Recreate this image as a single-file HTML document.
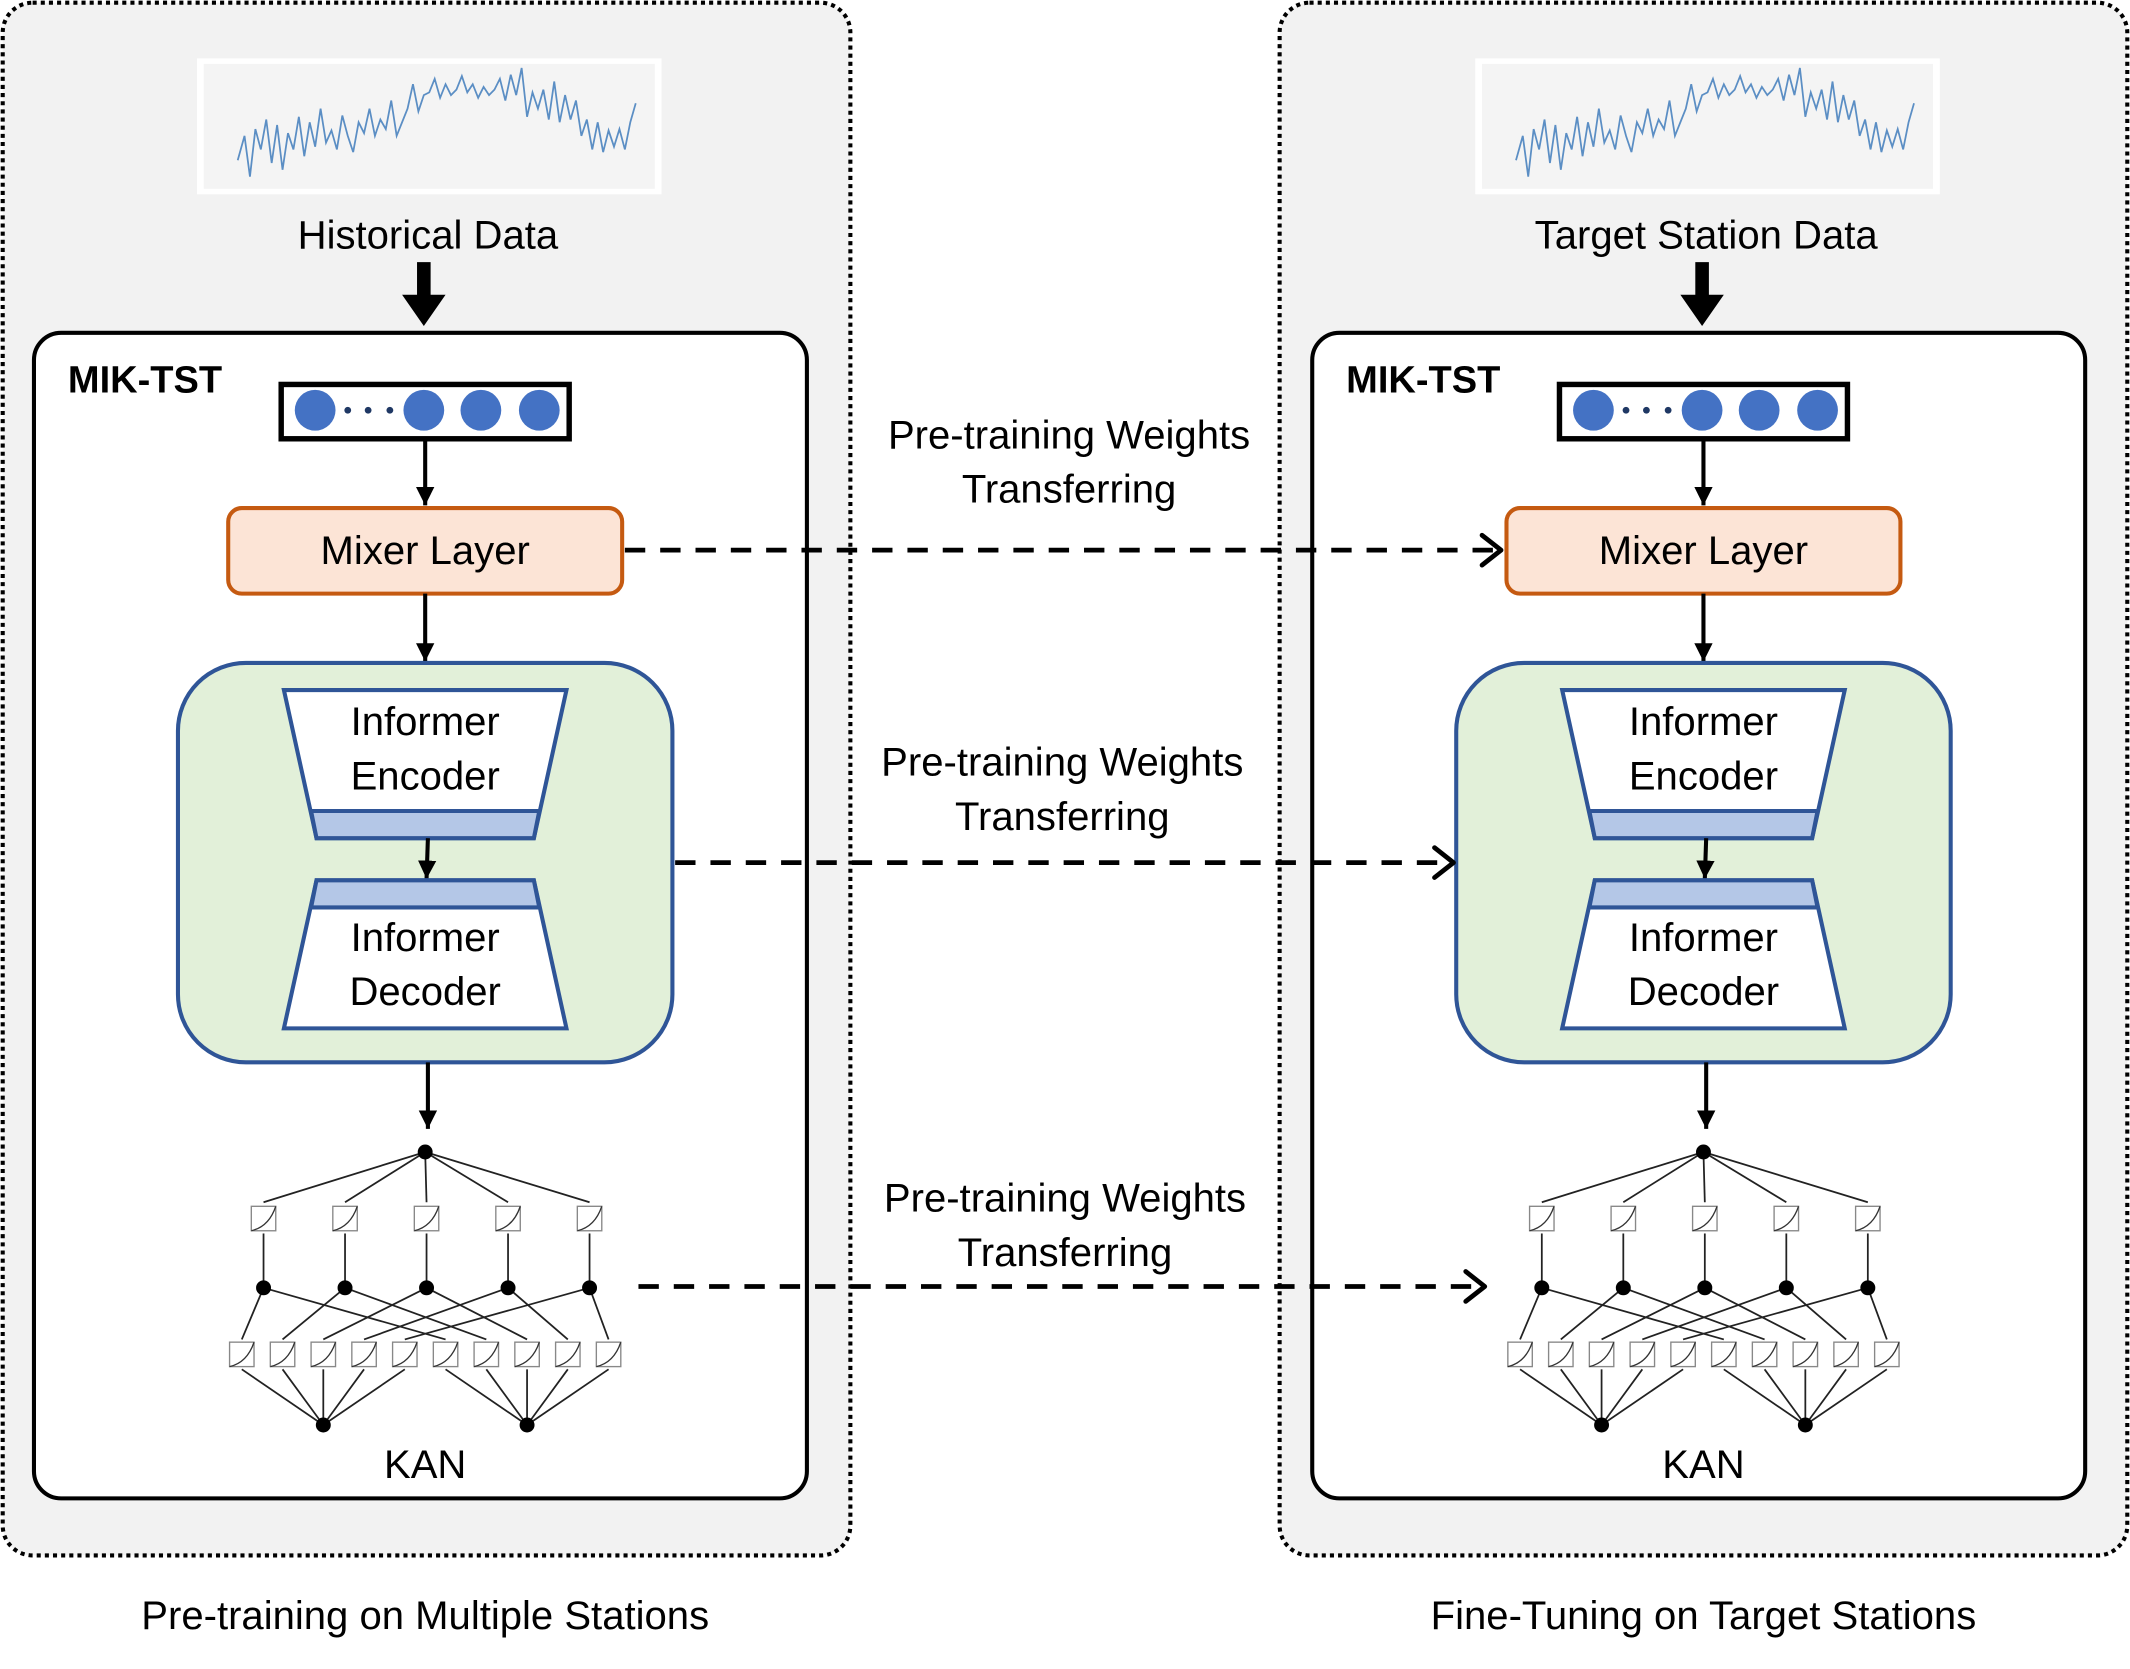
<!DOCTYPE html>
<html><head><meta charset="utf-8"><style>
html,body{margin:0;padding:0;background:#fff;width:2130px;height:1669px;overflow:hidden}
svg{display:block}
text{font-family:"Liberation Sans",sans-serif;fill:#000}
.t{font-size:29.5px}
</style></head><body>
<svg width="2130" height="1669" viewBox="0 0 1568 1228.6" preserveAspectRatio="none" xmlns="http://www.w3.org/2000/svg">
<defs>
<marker id="ah" viewBox="0 0 10 10" refX="10" refY="5" markerWidth="4.5" markerHeight="4.5" orient="auto" markerUnits="strokeWidth"><path d="M0,0 L10,5 L0,10 z" fill="#000"/></marker>
<g id="kbox"><rect x="-9" y="-9" width="18" height="18" fill="#fff" stroke="#888" stroke-width="1"/><path d="M-9,9 Q4,6 9,-9" fill="none" stroke="#333" stroke-width="1"/></g>
</defs>

<!-- LEFT PANEL -->
<g>
<rect x="2" y="2" width="624" height="1143" rx="22" fill="#f2f2f2" stroke="#000" stroke-width="3" stroke-dasharray="3 3"/>
<rect x="145" y="43" width="342" height="100" fill="#fff"/>
<rect x="150" y="47" width="332" height="92" fill="#f4f4f4"/>
<polyline fill="none" stroke="#5b8ec4" stroke-width="1.3" points="175,118 180,100 184,130 188,95 192,110 196,88 200,120 204,92 208,125 212,98 216,110 220,86 224,115 228,90 232,108 236,80 240,105 244,96 248,110 252,85 256,100 260,112 264,90 268,98 272,80 276,100 280,88 284,95 288,74 292,100 296,90 300,80 304,62 308,82 312,70 316,68 320,58 324,72 328,62 332,70 336,66 340,56 344,68 348,62 352,72 356,64 360,70 364,66 368,58 372,74 376,55 380,70 384,50 388,86 392,68 396,80 400,66 404,88 408,60 412,90 416,70 420,88 424,74 428,100 432,88 436,110 440,90 444,112 448,96 452,108 456,95 460,110 464,90 468,76"/>
<text x="315" y="183" class="t" text-anchor="middle">Historical Data</text>
<path d="M307,193 h10 v24 h11 l-16,23 l-16,-23 h11 z" fill="#000"/>
<rect x="25" y="245" width="569" height="858" rx="20" fill="#fff" stroke="#000" stroke-width="3"/>
<text x="50" y="289" font-size="28" font-weight="bold">MIK-TST</text>
<rect x="207" y="283" width="212" height="40" fill="#fff" stroke="#000" stroke-width="4"/>
<circle cx="232" cy="302" r="15" fill="#4472c4"/><circle cx="312" cy="302" r="15" fill="#4472c4"/><circle cx="354" cy="302" r="15" fill="#4472c4"/><circle cx="397" cy="302" r="15" fill="#4472c4"/>
<circle cx="256" cy="302" r="2.5" fill="#1f3864"/><circle cx="271" cy="302" r="2.5" fill="#1f3864"/><circle cx="287" cy="302" r="2.5" fill="#1f3864"/>
<line x1="313" y1="323" x2="313" y2="372" stroke="#000" stroke-width="3" marker-end="url(#ah)"/>
<rect x="168" y="374" width="290" height="63" rx="10" fill="#fce4d6" stroke="#c55a11" stroke-width="3"/>
<text x="313" y="415" class="t" text-anchor="middle">Mixer Layer</text>
<line x1="313" y1="437" x2="313" y2="487" stroke="#000" stroke-width="3" marker-end="url(#ah)"/>
<rect x="131" y="488" width="364" height="294" rx="50" fill="#e2f0d9" stroke="#2f5597" stroke-width="3"/>
<path d="M209,508 H417 L393,617 H233 Z" fill="#fff" stroke="#2f5597" stroke-width="3"/>
<path d="M229,597 H397 L393,617 H233 Z" fill="#b4c7e7" stroke="#2f5597" stroke-width="3"/>
<text x="313" y="541" class="t" text-anchor="middle">Informer</text>
<text x="313" y="581" class="t" text-anchor="middle">Encoder</text>
<line x1="315" y1="617" x2="314" y2="647" stroke="#000" stroke-width="3" marker-end="url(#ah)"/>
<path d="M233,648 H393 L417,757 H209 Z" fill="#fff" stroke="#2f5597" stroke-width="3"/>
<path d="M233,648 H393 L397,668 H229 Z" fill="#b4c7e7" stroke="#2f5597" stroke-width="3"/>
<text x="313" y="700" class="t" text-anchor="middle">Informer</text>
<text x="313" y="740" class="t" text-anchor="middle">Decoder</text>
<line x1="315" y1="782" x2="315" y2="831" stroke="#000" stroke-width="3" marker-end="url(#ah)"/>
<g stroke="#222" stroke-width="1.3">
<line x1="313" y1="848" x2="194" y2="885"/><line x1="313" y1="848" x2="254" y2="885"/><line x1="313" y1="848" x2="314" y2="885"/><line x1="313" y1="848" x2="374" y2="885"/><line x1="313" y1="848" x2="434" y2="885"/>
<line x1="194" y1="908" x2="194" y2="948"/><line x1="254" y1="908" x2="254" y2="948"/><line x1="314" y1="908" x2="314" y2="948"/><line x1="374" y1="908" x2="374" y2="948"/><line x1="434" y1="908" x2="434" y2="948"/>
<line x1="194" y1="948" x2="178" y2="986"/><line x1="194" y1="948" x2="328" y2="986"/>
<line x1="254" y1="948" x2="208" y2="986"/><line x1="254" y1="948" x2="358" y2="986"/>
<line x1="314" y1="948" x2="238" y2="986"/><line x1="314" y1="948" x2="388" y2="986"/>
<line x1="374" y1="948" x2="268" y2="986"/><line x1="374" y1="948" x2="418" y2="986"/>
<line x1="434" y1="948" x2="298" y2="986"/><line x1="434" y1="948" x2="448" y2="986"/>
<line x1="178" y1="1008" x2="238" y2="1049"/><line x1="208" y1="1008" x2="238" y2="1049"/><line x1="238" y1="1008" x2="238" y2="1049"/><line x1="268" y1="1008" x2="238" y2="1049"/><line x1="298" y1="1008" x2="238" y2="1049"/>
<line x1="328" y1="1008" x2="388" y2="1049"/><line x1="358" y1="1008" x2="388" y2="1049"/><line x1="388" y1="1008" x2="388" y2="1049"/><line x1="418" y1="1008" x2="388" y2="1049"/><line x1="448" y1="1008" x2="388" y2="1049"/>
</g>
<use href="#kbox" x="194" y="897"/><use href="#kbox" x="254" y="897"/><use href="#kbox" x="314" y="897"/><use href="#kbox" x="374" y="897"/><use href="#kbox" x="434" y="897"/>
<use href="#kbox" x="178" y="997"/><use href="#kbox" x="208" y="997"/><use href="#kbox" x="238" y="997"/><use href="#kbox" x="268" y="997"/><use href="#kbox" x="298" y="997"/><use href="#kbox" x="328" y="997"/><use href="#kbox" x="358" y="997"/><use href="#kbox" x="388" y="997"/><use href="#kbox" x="418" y="997"/><use href="#kbox" x="448" y="997"/>
<circle cx="313" cy="848" r="5.5"/><circle cx="194" cy="948" r="5.5"/><circle cx="254" cy="948" r="5.5"/><circle cx="314" cy="948" r="5.5"/><circle cx="374" cy="948" r="5.5"/><circle cx="434" cy="948" r="5.5"/><circle cx="238" cy="1049" r="5.5"/><circle cx="388" cy="1049" r="5.5"/>
<text x="313" y="1088" class="t" text-anchor="middle">KAN</text>
</g>

<!-- RIGHT PANEL -->
<g>
<rect x="942" y="2" width="624" height="1143" rx="22" fill="#f2f2f2" stroke="#000" stroke-width="3" stroke-dasharray="3 3"/>
<rect x="1086" y="43" width="342" height="100" fill="#fff"/>
<rect x="1091" y="47" width="332" height="92" fill="#f4f4f4"/>
<polyline fill="none" stroke="#5b8ec4" stroke-width="1.3" transform="translate(941,0)" points="175,118 180,100 184,130 188,95 192,110 196,88 200,120 204,92 208,125 212,98 216,110 220,86 224,115 228,90 232,108 236,80 240,105 244,96 248,110 252,85 256,100 260,112 264,90 268,98 272,80 276,100 280,88 284,95 288,74 292,100 296,90 300,80 304,62 308,82 312,70 316,68 320,58 324,72 328,62 332,70 336,66 340,56 344,68 348,62 352,72 356,64 360,70 364,66 368,58 372,74 376,55 380,70 384,50 388,86 392,68 396,80 400,66 404,88 408,60 412,90 416,70 420,88 424,74 428,100 432,88 436,110 440,90 444,112 448,96 452,108 456,95 460,110 464,90 468,76"/>
<text x="1256" y="183" class="t" text-anchor="middle">Target Station Data</text>
<path d="M1248,193 h10 v24 h11 l-16,23 l-16,-23 h11 z" fill="#000"/>
<rect x="966" y="245" width="569" height="858" rx="20" fill="#fff" stroke="#000" stroke-width="3"/>
<text x="991" y="289" font-size="28" font-weight="bold">MIK-TST</text>
<rect x="1148" y="283" width="212" height="40" fill="#fff" stroke="#000" stroke-width="4"/>
<circle cx="1173" cy="302" r="15" fill="#4472c4"/><circle cx="1253" cy="302" r="15" fill="#4472c4"/><circle cx="1295" cy="302" r="15" fill="#4472c4"/><circle cx="1338" cy="302" r="15" fill="#4472c4"/>
<circle cx="1197" cy="302" r="2.5" fill="#1f3864"/><circle cx="1212" cy="302" r="2.5" fill="#1f3864"/><circle cx="1228" cy="302" r="2.5" fill="#1f3864"/>
<line x1="1254" y1="323" x2="1254" y2="372" stroke="#000" stroke-width="3" marker-end="url(#ah)"/>
<rect x="1109" y="374" width="290" height="63" rx="10" fill="#fce4d6" stroke="#c55a11" stroke-width="3"/>
<text x="1254" y="415" class="t" text-anchor="middle">Mixer Layer</text>
<line x1="1254" y1="437" x2="1254" y2="487" stroke="#000" stroke-width="3" marker-end="url(#ah)"/>
<rect x="1072" y="488" width="364" height="294" rx="50" fill="#e2f0d9" stroke="#2f5597" stroke-width="3"/>
<path d="M1150,508 H1358 L1334,617 H1174 Z" fill="#fff" stroke="#2f5597" stroke-width="3"/>
<path d="M1170,597 H1338 L1334,617 H1174 Z" fill="#b4c7e7" stroke="#2f5597" stroke-width="3"/>
<text x="1254" y="541" class="t" text-anchor="middle">Informer</text>
<text x="1254" y="581" class="t" text-anchor="middle">Encoder</text>
<line x1="1256" y1="617" x2="1255" y2="647" stroke="#000" stroke-width="3" marker-end="url(#ah)"/>
<path d="M1174,648 H1334 L1358,757 H1150 Z" fill="#fff" stroke="#2f5597" stroke-width="3"/>
<path d="M1174,648 H1334 L1338,668 H1170 Z" fill="#b4c7e7" stroke="#2f5597" stroke-width="3"/>
<text x="1254" y="700" class="t" text-anchor="middle">Informer</text>
<text x="1254" y="740" class="t" text-anchor="middle">Decoder</text>
<line x1="1256" y1="782" x2="1256" y2="831" stroke="#000" stroke-width="3" marker-end="url(#ah)"/>
<g transform="translate(941,0)">
<g stroke="#222" stroke-width="1.3">
<line x1="313" y1="848" x2="194" y2="885"/><line x1="313" y1="848" x2="254" y2="885"/><line x1="313" y1="848" x2="314" y2="885"/><line x1="313" y1="848" x2="374" y2="885"/><line x1="313" y1="848" x2="434" y2="885"/>
<line x1="194" y1="908" x2="194" y2="948"/><line x1="254" y1="908" x2="254" y2="948"/><line x1="314" y1="908" x2="314" y2="948"/><line x1="374" y1="908" x2="374" y2="948"/><line x1="434" y1="908" x2="434" y2="948"/>
<line x1="194" y1="948" x2="178" y2="986"/><line x1="194" y1="948" x2="328" y2="986"/>
<line x1="254" y1="948" x2="208" y2="986"/><line x1="254" y1="948" x2="358" y2="986"/>
<line x1="314" y1="948" x2="238" y2="986"/><line x1="314" y1="948" x2="388" y2="986"/>
<line x1="374" y1="948" x2="268" y2="986"/><line x1="374" y1="948" x2="418" y2="986"/>
<line x1="434" y1="948" x2="298" y2="986"/><line x1="434" y1="948" x2="448" y2="986"/>
<line x1="178" y1="1008" x2="238" y2="1049"/><line x1="208" y1="1008" x2="238" y2="1049"/><line x1="238" y1="1008" x2="238" y2="1049"/><line x1="268" y1="1008" x2="238" y2="1049"/><line x1="298" y1="1008" x2="238" y2="1049"/>
<line x1="328" y1="1008" x2="388" y2="1049"/><line x1="358" y1="1008" x2="388" y2="1049"/><line x1="388" y1="1008" x2="388" y2="1049"/><line x1="418" y1="1008" x2="388" y2="1049"/><line x1="448" y1="1008" x2="388" y2="1049"/>
</g>
<use href="#kbox" x="194" y="897"/><use href="#kbox" x="254" y="897"/><use href="#kbox" x="314" y="897"/><use href="#kbox" x="374" y="897"/><use href="#kbox" x="434" y="897"/>
<use href="#kbox" x="178" y="997"/><use href="#kbox" x="208" y="997"/><use href="#kbox" x="238" y="997"/><use href="#kbox" x="268" y="997"/><use href="#kbox" x="298" y="997"/><use href="#kbox" x="328" y="997"/><use href="#kbox" x="358" y="997"/><use href="#kbox" x="388" y="997"/><use href="#kbox" x="418" y="997"/><use href="#kbox" x="448" y="997"/>
<circle cx="313" cy="848" r="5.5"/><circle cx="194" cy="948" r="5.5"/><circle cx="254" cy="948" r="5.5"/><circle cx="314" cy="948" r="5.5"/><circle cx="374" cy="948" r="5.5"/><circle cx="434" cy="948" r="5.5"/><circle cx="238" cy="1049" r="5.5"/><circle cx="388" cy="1049" r="5.5"/>
</g>
<text x="1254" y="1088" class="t" text-anchor="middle">KAN</text>
</g>

<!-- Transfer arrows -->
<g stroke="#000" stroke-width="3.5" fill="none">
<line x1="460" y1="405" x2="1100" y2="405" stroke-dasharray="15 11"/>
<path d="M1091,394 L1105,405 L1091,416" stroke-linecap="round" stroke-linejoin="round"/>
<line x1="497" y1="635" x2="1065" y2="635" stroke-dasharray="15 11"/>
<path d="M1056,624 L1070,635 L1056,646" stroke-linecap="round" stroke-linejoin="round"/>
<line x1="470" y1="947" x2="1088" y2="947" stroke-dasharray="15 11"/>
<path d="M1079,936 L1093,947 L1079,958" stroke-linecap="round" stroke-linejoin="round"/>
</g>
<text x="787" y="330" class="t" text-anchor="middle">Pre-training Weights</text>
<text x="787" y="370" class="t" text-anchor="middle">Transferring</text>
<text x="782" y="571" class="t" text-anchor="middle">Pre-training Weights</text>
<text x="782" y="611" class="t" text-anchor="middle">Transferring</text>
<text x="784" y="892" class="t" text-anchor="middle">Pre-training Weights</text>
<text x="784" y="932" class="t" text-anchor="middle">Transferring</text>

<text x="313" y="1199" class="t" text-anchor="middle">Pre-training on Multiple Stations</text>
<text x="1254" y="1199" class="t" text-anchor="middle">Fine-Tuning on Target Stations</text>
</svg>
</body></html>
